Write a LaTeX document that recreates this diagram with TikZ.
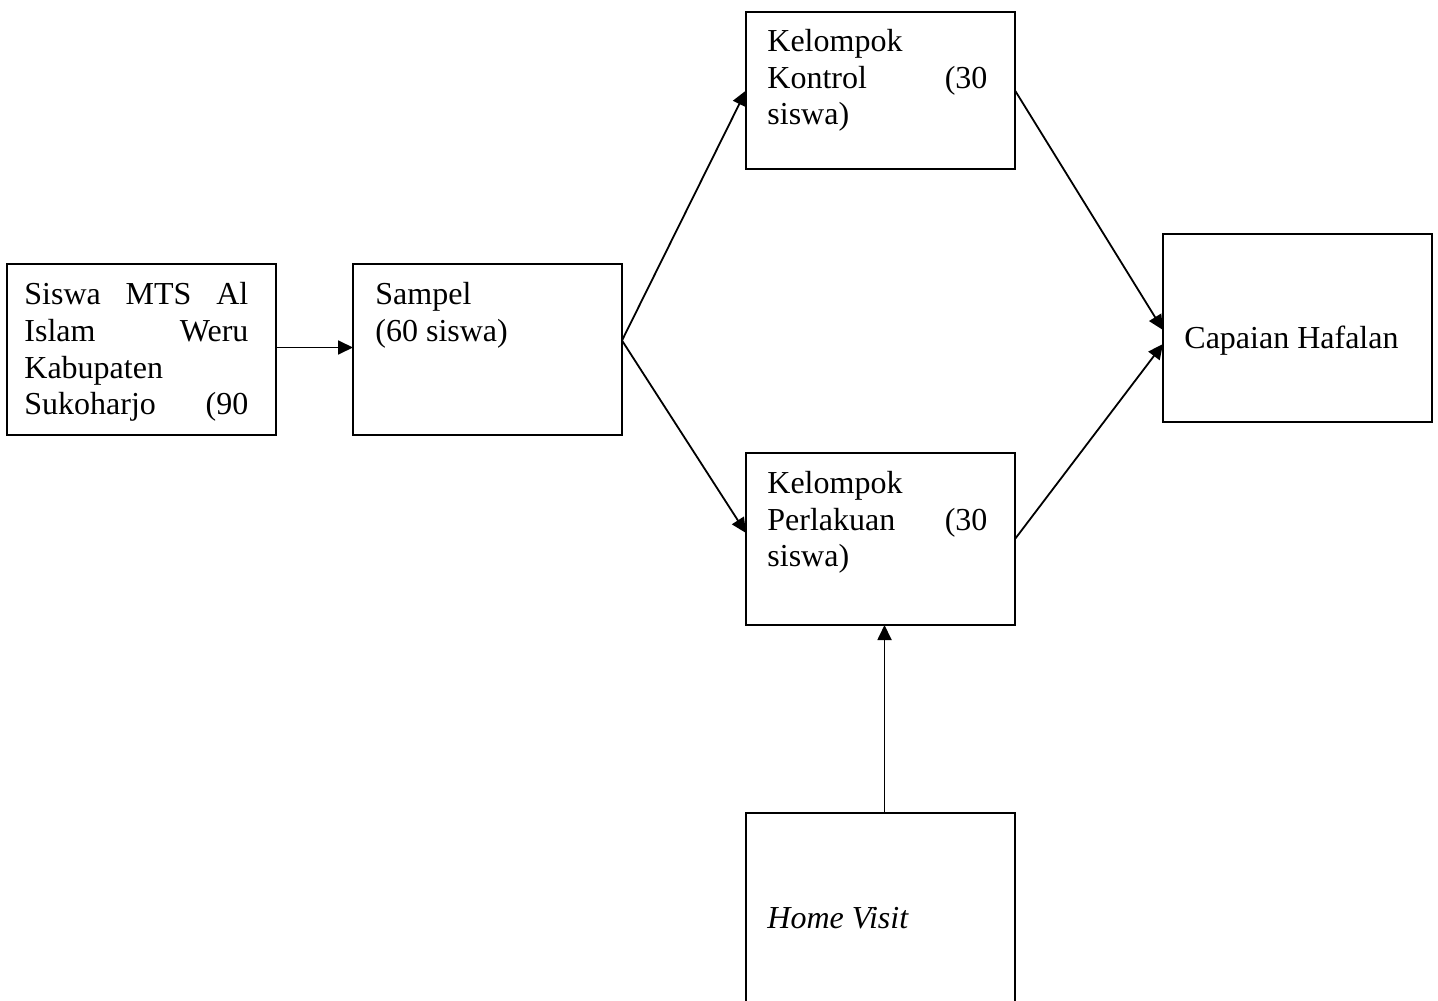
\documentclass[tikz,border=0pt]{standalone}
\usepackage{fontspec}
\setmainfont{Liberation Serif}
\usetikzlibrary{arrows.meta,calc}
\begin{document}
\begin{tikzpicture}[x=0.5pt,y=-0.5pt,
  box/.style={draw,line width=0.85pt,inner sep=0pt,outer sep=0pt,anchor=north west,minimum width=134.5pt},
  txt/.style={inner sep=0pt,anchor=base west,font=\fontsize{16}{18.4}\selectfont},
  conn/.style={line width=0.9pt,-{Triangle[length=7.5pt,width=7pt]}}]
\useasboundingbox (0,0) rectangle (1438,1000);
\node[box,minimum height=85.5pt] (A) at (7,264) {};
\node[box,minimum height=85.5pt] (B) at (353,264) {};
\node[box,minimum height=78.5pt] (C) at (746,12) {};
\node[box,minimum height=86pt] (D) at (746,453) {};
\node[box,minimum height=94pt] (E) at (1163,234) {};
\node[box,minimum height=96pt] (F) at (746,813) {};
% texts
\node[txt] (a1) at (24,304) {\makebox[112pt][s]{Siswa MTS Al}};
\node[txt] (a2) at (24,341) {\makebox[112pt][s]{Islam Weru}};
\node[txt] (a3) at (24,378) {Kabupaten};
\node[txt] (a4) at (24,414) {\makebox[112pt][s]{Sukoharjo (90}};
\node[txt] (b1) at (375,304) {Sampel};
\node[txt] (b2) at (375,341) {(60 siswa)};
\node[txt] (c1) at (767,52) {Kelompok};
\node[txt] (c2) at (767,89) {\makebox[110pt][s]{Kontrol (30}};
\node[txt] (c3) at (767,125) {siswa)};
\node[txt] (d1) at (767,493) {Kelompok};
\node[txt] (d2) at (767,530) {\makebox[110pt][s]{Perlakuan (30}};
\node[txt] (d3) at (767,566) {siswa)};
\node[txt] (e1) at (1184,348) {Capaian Hafalan};
\node[txt] (f1) at (767,928) {\itshape Home Visit};
% connectors
\draw[conn] ($(A.east)+(0,-2)$) -- ($(B.west)+(0,-2)$);
\coordinate (bout) at ($(B.east)+(0,-9)$);
\draw[conn] (bout) -- (C.west);
\draw[conn] (bout) -- ($(D.west)+(0,-6)$);
\draw[conn] (C.east) -- ($(E.west)+(0,2)$);
\draw[conn] (D.east) -- ($(E.west)+(0,16)$);
\draw[conn] ($(F.north)+(4,0)$) -- ($(D.south)+(4,0)$);
\end{tikzpicture}
\end{document}
